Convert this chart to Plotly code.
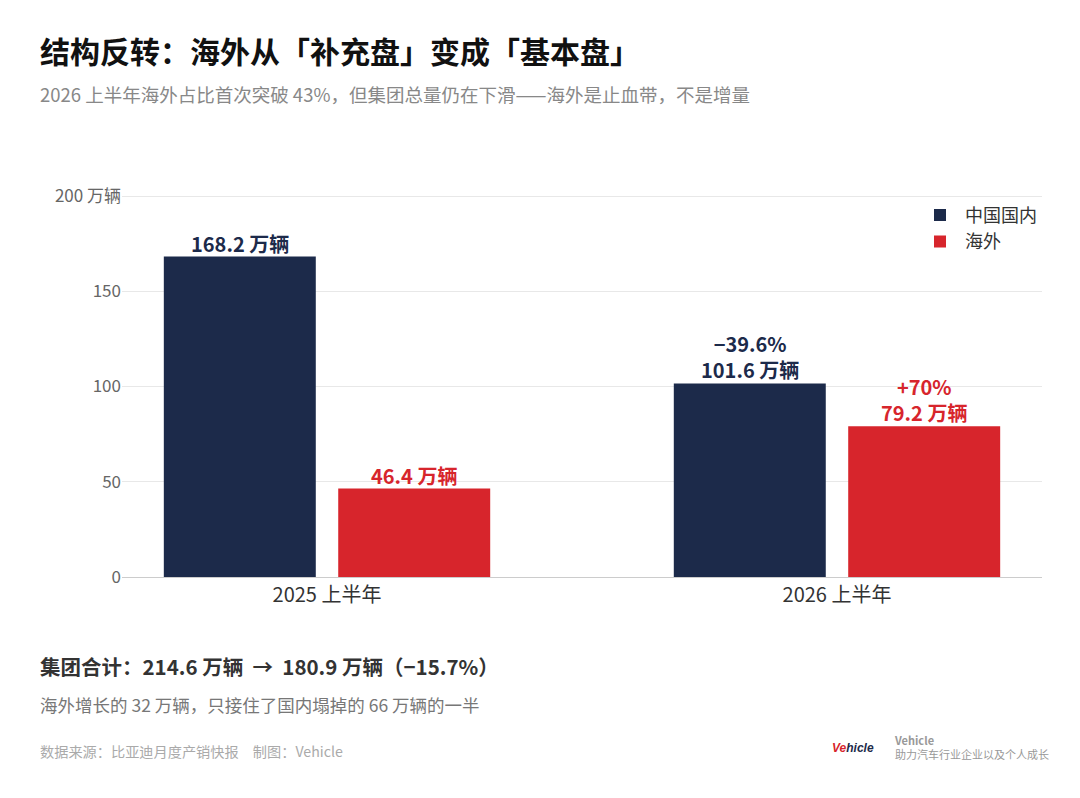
import plotly.graph_objects as go

periods = ['2025 上半年', '2026 上半年']
data = {
    '中国国内': [168.2, 101.6],
    '海外': [46.4, 79.2],
}
colors = {'中国国内': '#1c2a4a', '海外': '#d7252c'}
offsets = {'中国国内': -0.171, '海外': 0.171}
changes = {'中国国内': [None, '−39.6%'], '海外': [None, '+70%']}

FONT = 'Noto Sans CJK SC'
fig = go.Figure()
for name, vals in data.items():
    xs = [i + offsets[name] for i in range(len(vals))]
    fig.add_bar(x=xs, y=vals, width=0.298, name=name, marker_color=colors[name],
                marker_line_width=0, hoverinfo='skip')
    for x, v, c in zip(xs, vals, changes[name]):
        txt = f'<b>{v} 万辆</b>' if c is None else f'<b>{c}</b><br><b>{v} 万辆</b>'
        fig.add_annotation(x=x, y=v, text=txt, showarrow=False, yanchor='bottom', yshift=-3,
                           font=dict(family=FONT, size=20, color=colors[name]), align='center')

W, H = 1080, 798
# plot area in the screenshot: x 122..1042, y 193..577
def px(x):
    return (x - 122) / 920
def py(y):
    return (577 - y) / 384

texts = [
    (38, 50, '<b>结构反转：海外从「补充盘」变成「基本盘」</b>', 30, '#111111'),
    (38, 94, '2026 上半年海外占比首次突破 43%，但集团总量仍在下滑——海外是止血带，不是增量', 18.5, '#888888'),
    (38, 666, '<b>集团合计：214.6 万辆  →  180.9 万辆（−15.7%）</b>', 20.5, '#333333'),
    (38, 704, '海外增长的 32 万辆，只接住了国内塌掉的 66 万辆的一半', 17.5, '#777777'),
    (38, 751, '数据来源：比亚迪月度产销快报　制图：Vehicle', 14.2, '#aaaaaa'),
]
for x, y, t, s, c in texts:
    fig.add_annotation(x=px(x), y=py(y), xref='paper', yref='paper', xanchor='left', yanchor='middle',
                       text=t, showarrow=False, font=dict(family=FONT, size=s, color=c))
fig.add_annotation(x=px(892), y=py(747), xref='paper', yref='paper', xanchor='left', yanchor='middle',
                   text='<b>Vehicle</b><br>助力汽车行业企业以及个人成长', showarrow=False, align='left',
                   font=dict(family=FONT, size=11, color='#999999'))
fig.add_annotation(x=px(853), y=py(748), xref='paper', yref='paper', xanchor='center', yanchor='middle',
                   text='<b><i><span style="color:#d7252c">Ve</span>hicle</i></b>', showarrow=False,
                   font=dict(family='Liberation Sans', size=12, color='#1c2a4a'))

fig.update_layout(
    width=W, height=H, plot_bgcolor='white', paper_bgcolor='white',
    margin=dict(l=114, r=46, t=185, b=229),
    font=dict(family=FONT, size=16, color='#666666'),
    showlegend=True,
    legend=dict(x=1, y=0.99, xanchor='right', yanchor='top', font=dict(size=18, color='#333333'),
                bgcolor='rgba(0,0,0,0)', itemwidth=40),
    xaxis=dict(range=[-0.402, 1.402], tickvals=[0, 1], ticktext=periods, showgrid=False,
               zeroline=False, showline=True, linecolor='#cccccc', ticks='',
               tickfont=dict(size=20, color='#333333')),
    yaxis=dict(range=[0, 201.6], tickvals=[0, 50, 100, 150, 200],
               ticktext=['0', '50', '100', '150', '200 万辆'], gridcolor='#e8e8e8',
               zeroline=False, ticks='', tickfont=dict(size=17, color='#666666')),
)
fig.write_html('out.html')
